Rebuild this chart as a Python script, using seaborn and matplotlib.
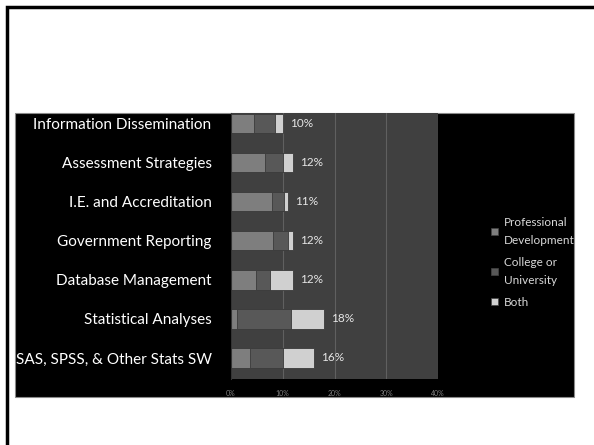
import numpy as np
import pandas as pd
import seaborn as sns
import matplotlib.pyplot as plt
from matplotlib.patches import Patch, Rectangle

categories = ['Information Dissemination', 'Assessment Strategies', 'I.E. and Accreditation',
              'Government Reporting', 'Database Management', 'Statistical Analyses',
              'SAS, SPSS, & Other Stats SW']
prof_dev = [4.5, 6.5, 8.0, 8.1, 4.9, 1.2, 3.7]
college = [4.0, 3.5, 2.3, 2.9, 2.6, 10.3, 6.4]
both = [1.5, 2.0, 0.7, 1.0, 4.5, 6.5, 5.9]
totals = [10, 12, 11, 12, 12, 18, 16]
series_names = ['Professional\nDevelopment', 'College or\nUniversity', 'Both']
series_colors = ['#7e7e7e', '#585858', '#d0d0d0']
x_ticks = [0, 10, 20, 30, 40]

df = pd.DataFrame({'Area': categories, 'PD': prof_dev, 'College': college, 'Both': both})
df['c1'] = df['PD']
df['c2'] = df['PD'] + df['College']
df['c3'] = df['c2'] + df['Both']

sns.set_style('white')
plt.rcParams['font.family'] = ['Lato', 'DejaVu Sans']

W, H = 594, 445
fig = plt.figure(figsize=(W / 100, H / 100), dpi=100)

# slide frame (cropped on right and bottom)
fig.patches.append(Rectangle((7 / W, -0.1), 1.2, (1 - 7 / H) + 0.1, transform=fig.transFigure,
                             fill=False, edgecolor='black', linewidth=2.5, zorder=-10))
# black chart area
fig.patches.append(Rectangle((15 / W, 1 - 397 / H), (574 - 15) / W, (397 - 113) / H,
                             transform=fig.transFigure, facecolor='black',
                             edgecolor='#8a8a8a', linewidth=0.8, zorder=-10))

ax = fig.add_axes([231 / W, 1 - 379 / H, (438 - 231) / W, (379 - 113) / H])
ax.set_facecolor('#404040')

# stacked bars drawn back to front
for col, color in zip(['c3', 'c2', 'c1'], series_colors[::-1]):
    sns.barplot(data=df, x=col, y='Area', color=color, width=0.5, ax=ax,
                edgecolor='#3a3a3a', linewidth=0.6, saturation=1)

for i, t in enumerate(totals):
    ax.annotate(f'{t}%', xy=(df['c3'][i], i), xytext=(5, 0), textcoords='offset points',
                va='center', ha='left', fontsize=8.5, color='#e6e6e6')

ax.set_xlim(0, 40)
ax.set_ylim(6.54, -0.27)
ax.set_xticks(x_ticks)
ax.set_xticklabels([f'{v}%' for v in x_ticks], fontsize=5, color='#808080')
ax.tick_params(axis='x', length=0, pad=8)
ax.grid(True, axis='x', color='#606060', linewidth=0.8)
ax.set_axisbelow(True)
ax.set_xlabel('')
ax.set_ylabel('')
ax.tick_params(axis='y', which='major', length=0, pad=14, labelsize=11, labelcolor='white')
ax.set_yticks(np.arange(0.5, 7, 1), minor=True)
ax.tick_params(axis='y', which='minor', length=4, color='#777777', width=0.8)
for s in ['top', 'right', 'bottom']:
    ax.spines[s].set_visible(False)
ax.spines['left'].set_color('#333333')

handles = [Patch(facecolor=c, edgecolor='#444444', linewidth=0.5) for c in series_colors]
leg = fig.legend(handles, series_names, loc='upper left', bbox_to_anchor=(486 / W, 1 - 212 / H),
                 frameon=False, fontsize=8.5, labelcolor='#d8d8d8', handlelength=0.6,
                 handleheight=0.6, handletextpad=0.5, labelspacing=0.92, borderaxespad=0)
for t in leg.get_texts():
    t.set_linespacing(1.8)

fig.savefig('out.png', dpi=100, facecolor='white')
